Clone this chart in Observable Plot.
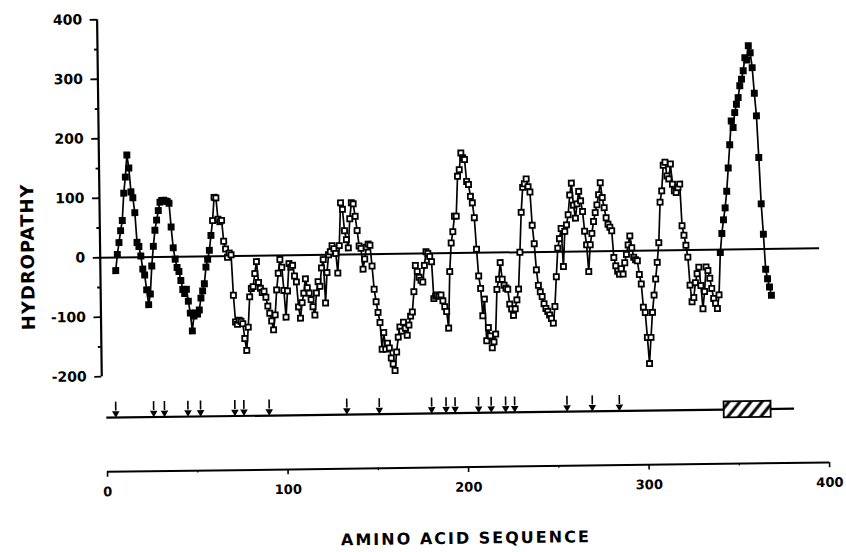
<!DOCTYPE html>
<html><head><meta charset="utf-8">
<script src="https://cdn.jsdelivr.net/npm/d3@7"></script>
<script src="https://cdn.jsdelivr.net/npm/@observablehq/plot@0.6"></script>
<style>
html,body{margin:0;padding:0;background:#fff;overflow:hidden;}
#chart{width:846px;height:552px;transform:rotate(-0.75deg);transform-origin:423px 276px;}
</style></head><body><div id="chart"></div>
<script>
// ---- data ----
const firstResidue = 6;
const hydropathy = [
  -22, 5, 25, 45, 62, 108, 135, 172, 150, 110,
  100, 75, 25, 18, 2, -20, -30, -55, -80, -62,
  -15, 18, 45, 62, 78, 92, 95, 95, 94, 93,
  90, 50, 15, -4, -18, -25, -40, -55, -62, -55,
  -75, -95, -125, -100, -95, -97, -90, -70, -58, -46,
  -18, -5, 10, 35, 60, 99, 98, 62, 58, 60,
  25, 12, -2, 5, 2, -66, -111, -115, -108, -110,
  -114, -139, -159, -120, -69, -55, -52, -30, -10, -45,
  -55, -62, -60, -70, -85, -97, -110, -125, -100, -58,
  -30, -7, -20, -59, -104, -60, -14, -20, -17, -35,
  -45, -87, -106, -80, -64, -40, -55, -64, -75, -87,
  -101, -64, -45, -53, -22, -8, -81, -30, 0, 5,
  15, 10, 2, -31, 15, 87, 76, 40, 25, 11,
  60, 87, 85, 64, 40, 14, 10, -25, -8, 12,
  17, 15, -20, -59, -80, -98, -115, -160, -132, -160,
  -150, -158, -175, -185, -196, -165, -140, -123, -130, -115,
  -125, -137, -120, -105, -98, -64, -20, -30, -40, -45,
  -48, -20, 3, 0, -5, -14, -76, -72, -70, -72,
  -70, -80, -90, -98, -126, -31, 17, 36, 62, 62,
  129, 140, 168, 160, 157, 120, 115, 95, 84, 59,
  6, -39, -60, -106, -78, -148, -126, -140, -160, -150,
  -137, -62, -45, -17, -45, -55, -60, -62, -87, -95,
  -106, -95, -80, -62, 0, 67, 109, 115, 123, 110,
  101, 45, 14, -30, -56, -67, -75, -87, -95, -100,
  -106, -112, -120, -92, -42, 6, 22, 39, -25, 34,
  45, 62, 95, 115, 78, 56, 80, 101, 85, 67,
  34, 11, -34, 11, 30, 50, 65, 78, 95, 115,
  90, 73, 56, 45, 40, 34, -11, -25, -34, -39,
  -30, -39, -20, -6, 10, 25, 5, -11, -15, -17,
  -40, -56, -95, -104, -146, -190, -146, -104, -75, -48,
  -20, 13, 81, 100, 143, 148, 125, 120, 145, 111,
  100, 97, 105, 111, 41, 25, 8, -12, -59, -87,
  -80, -55, -40, -29, -60, -99, -70, -29, -35, -48,
  -65, -82, -90, -99, -76, -5, 27, 50, 70, 98,
  137, 176, 216, 205, 230, 244, 255, 275, 286, 300,
  322, 318, 342, 330, 305, 262, 224, 154, 76, 25,
  -34, -50, -64, -78
];
const arrowSites = [5, 26, 32, 45, 52, 71, 76, 90, 133, 151, 180, 188, 193, 206, 213, 221, 226, 255, 269, 284];
const sequenceEnd = 381;
const hatchedRegion = [342, 368];
const zeroLineEnd = 396;
const yTicks = [-200, -100, 0, 100, 200, 300, 400];
const yMinorTicks = [-150, -50, 50, 150, 250, 350];
const xTicks = [0, 100, 200, 300, 400];
const xMinorTicks = [50, 150, 250, 350];
const yTitle = "HYDROPATHY";
const xTitle = "AMINO ACID SEQUENCE";

// ---- build ----
const profile = hydropathy.map((v, i) => ({residue: firstResidue + i, value: v}));
const filled = d => (d.residue < 60 || d.residue > 340) ? "black" : "white";

// layout positions expressed in data units of the shared scales
const Y_AXIS_X = -2.5;
const X_AXIS_Y = -360;
const X_LABEL_Y = -394;
const X_TITLE_Y = -480;
const BAR_Y = -269;
const ARROW_TOP = -243, ARROW_TIP = -262;
const BOX_TOP = -256, BOX_BOTTOM = -283;

const chart = Plot.plot({
  width: 846,
  height: 552,
  marginLeft: 100,
  marginTop: 15,
  marginBottom: 180,
  marginRight: 20,
  style: {fontFamily: "DejaVu Sans", background: "white", color: "black"},
  x: {domain: [0, 400], range: [104.5, 826.6], axis: null},
  y: {domain: [-200, 400], axis: null},
  marks: [
    // y axis
    Plot.ruleX([Y_AXIS_X], {y1: -200, y2: 400, strokeWidth: 2.2}),
    Plot.axisY(yTicks, {anchor: "left", label: null, tickSize: 7, tickPadding: 8, strokeWidth: 1.8,
      fontSize: 14, fontWeight: "bold", tickFormat: d => String(d)}),
    Plot.axisY(yMinorTicks, {anchor: "left", label: null, tickSize: 3, strokeWidth: 1.8, tickFormat: () => ""}),
    // zero line
    Plot.ruleY([0], {x1: Y_AXIS_X, x2: zeroLineEnd, strokeWidth: 2}),
    // hydropathy profile
    Plot.line(profile, {x: "residue", y: "value", stroke: "black", strokeWidth: 1.7}),
    Plot.dot(profile, {x: "residue", y: "value", symbol: "square", r: 2.9,
      stroke: "black", strokeWidth: 1.8, fill: filled}),
    // sequence bar with sites and hatched region
    Plot.ruleY([BAR_Y], {x1: 0, x2: sequenceEnd, strokeWidth: 2.2}),
    Plot.ruleX(arrowSites, {x: d => d, y1: ARROW_TOP, y2: ARROW_TIP + 4, strokeWidth: 1.6}),
    Plot.dot(arrowSites, {x: d => d, y: ARROW_TIP, symbol: "triangle", r: 2.8, fill: "black", rotate: 180}),
    Plot.rect([hatchedRegion], {x1: d => d[0], x2: d => d[1], y1: BOX_TOP, y2: BOX_BOTTOM,
      fill: "url(#hatch)", stroke: "black", strokeWidth: 1.8}),
    // bottom x axis
    Plot.ruleY([X_AXIS_Y], {x1: 0, x2: 400, strokeWidth: 2}),
    Plot.ruleX(xTicks, {x: d => d, y1: X_AXIS_Y, y2: X_AXIS_Y - 9, strokeWidth: 1.6}),
    Plot.ruleX(xMinorTicks, {x: d => d, y1: X_AXIS_Y, y2: X_AXIS_Y - 4, strokeWidth: 1.2}),
    Plot.text(xTicks, {x: d => d, y: X_LABEL_Y, text: d => String(d), fontSize: 13, fontWeight: "bold"}),
    // titles
    Plot.text([xTitle], {x: 198, y: X_TITLE_Y, text: d => d, fontSize: 16, fontWeight: "bold"}),
    Plot.text([yTitle], {x: -42.4, y: 3, text: d => d, rotate: -90, fontSize: 18, fontWeight: "bold"})
  ]
});

const svg = d3.select(chart);
const defs = svg.insert("defs", ":first-child");
const pat = defs.append("pattern").attr("id", "hatch").attr("patternUnits", "userSpaceOnUse")
  .attr("width", 8.5).attr("height", 8.5).attr("patternTransform", "rotate(40)");
pat.append("rect").attr("width", 8.5).attr("height", 8.5).attr("fill", "white");
pat.append("line").attr("x1", 2).attr("y1", 0).attr("x2", 2).attr("y2", 8.5)
  .attr("stroke", "black").attr("stroke-width", 3);
svg.selectAll("text").filter(function(){ return this.textContent === xTitle; }).attr("letter-spacing", "2px");
svg.selectAll("text").filter(function(){ return this.textContent === yTitle; }).attr("letter-spacing", "1px");
document.getElementById("chart").appendChild(chart);
</script></body></html>
